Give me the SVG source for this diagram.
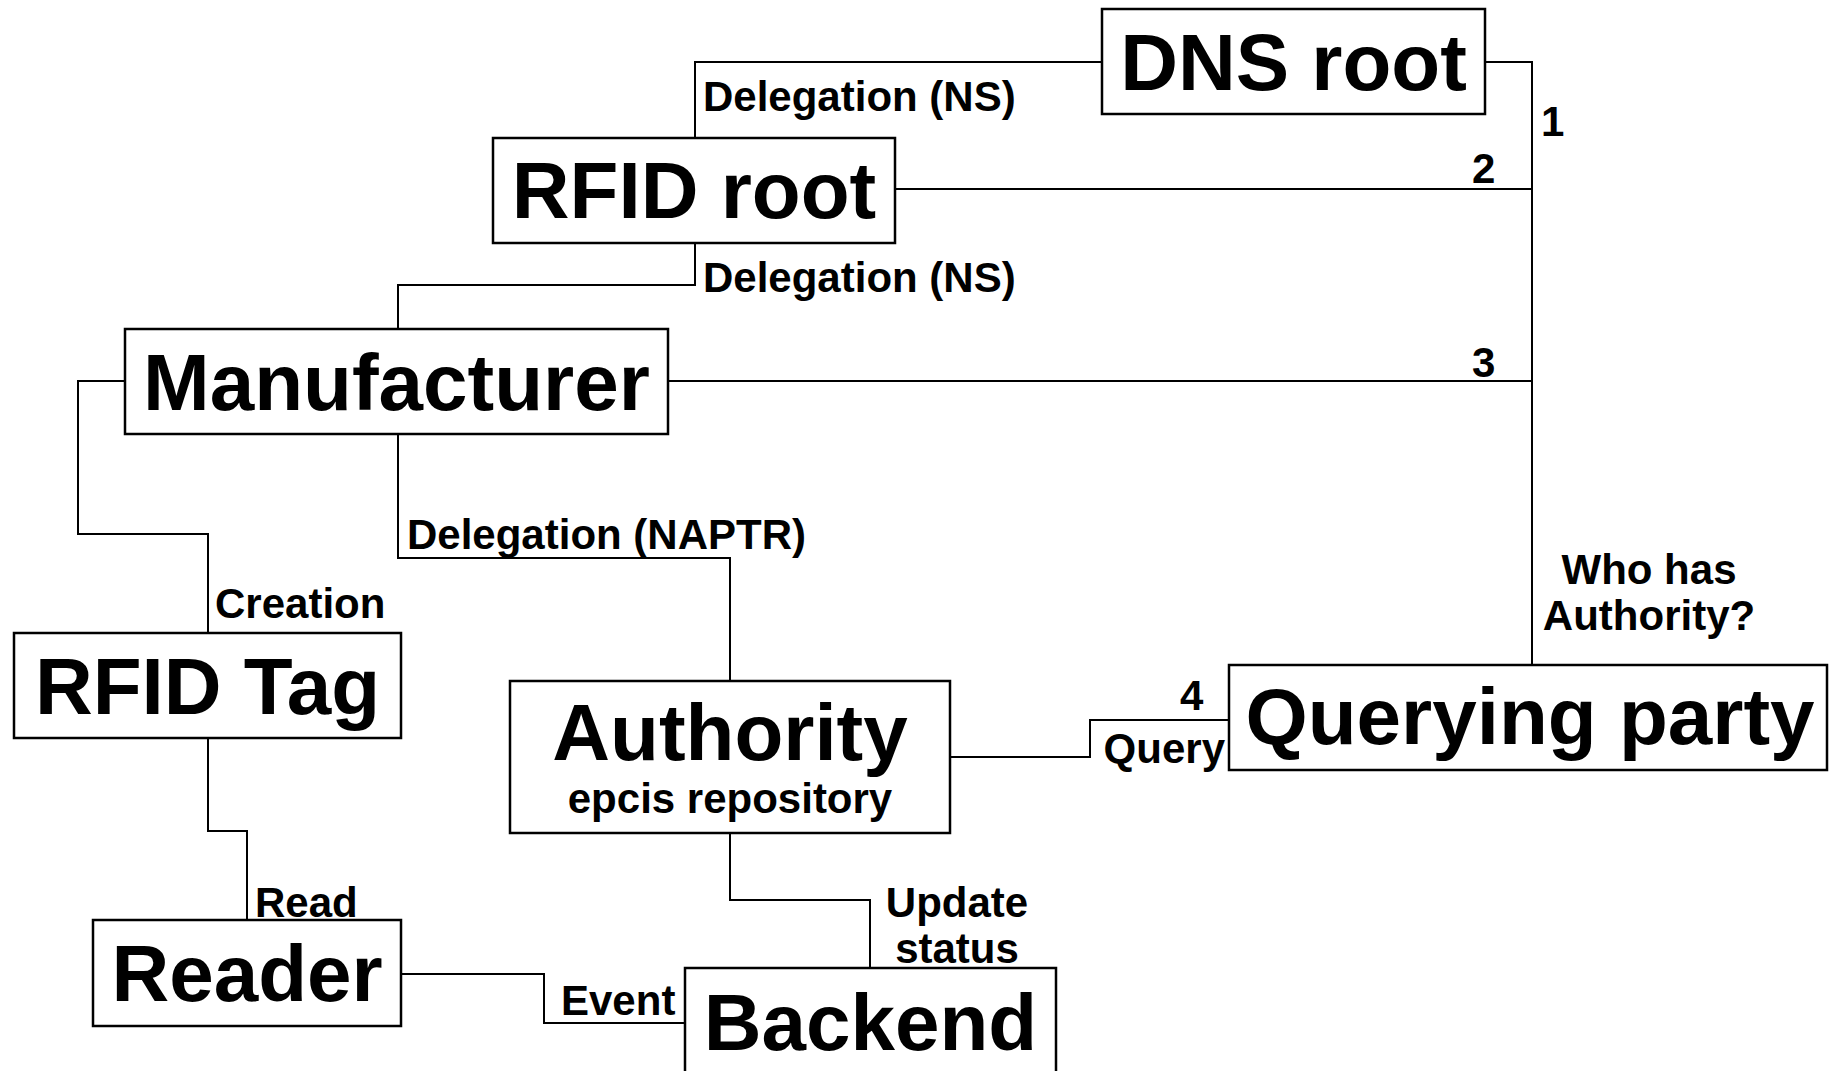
<svg xmlns="http://www.w3.org/2000/svg" width="1829" height="1071" viewBox="0 0 1829 1071">
  <style>
    .box { fill: #ffffff; stroke: #000000; stroke-width: 2.5; }
    .title { font-family: "Liberation Sans", Arial, sans-serif; font-weight: bold; font-size: 80px; fill: #000000; text-anchor: middle; }
    .sub { font-family: "Liberation Sans", Arial, sans-serif; font-weight: bold; font-size: 42px; fill: #000000; text-anchor: middle; }
    .lbl { font-family: "Liberation Sans", Arial, sans-serif; font-weight: bold; font-size: 42px; fill: #000000; }
    .wire { fill: none; stroke: #000000; stroke-width: 2; }
  </style>
  <rect width="1829" height="1071" fill="#ffffff"/>

  <!-- connectors -->
  <g id="connectors">
    <path class="wire" d="M1102,62 H695 V138"/>
    <path class="wire" d="M1485,62 H1532 V665"/>
    <path class="wire" d="M895,189 H1532"/>
    <path class="wire" d="M695,243 V285 H398 V329"/>
    <path class="wire" d="M668,381 H1532"/>
    <path class="wire" d="M125,381 H78 V534 H208 V633"/>
    <path class="wire" d="M398,434 V558 H730 V681"/>
    <path class="wire" d="M208,738 V831 H247 V920"/>
    <path class="wire" d="M401,974 H544 V1023 H685"/>
    <path class="wire" d="M730,833 V900 H870 V968"/>
    <path class="wire" d="M950,757 H1090 V720 H1229"/>

    <text class="lbl" x="703" y="111">Delegation (NS)</text>
    <text class="lbl" x="1541" y="136">1</text>
    <text class="lbl" x="1472" y="183">2</text>
    <text class="lbl" x="703" y="292">Delegation (NS)</text>
    <text class="lbl" x="1472" y="377">3</text>
    <text class="lbl" x="407" y="549">Delegation (NAPTR)</text>
    <text class="lbl" x="215" y="618">Creation</text>
    <text class="sub" x="1649" y="584">Who has</text>
    <text class="sub" x="1649" y="630">Authority?</text>
    <text class="lbl" x="1180" y="710">4</text>
    <text class="lbl" x="1225" y="763" text-anchor="end">Query</text>
    <text class="lbl" x="255" y="917">Read</text>
    <text class="sub" x="957" y="917">Update</text>
    <text class="sub" x="957" y="963">status</text>
    <text class="lbl" x="561" y="1015">Event</text>
  </g>

  <!-- nodes -->
  <g id="dns-root">
    <rect class="box" x="1102" y="9" width="383" height="105"/>
    <text class="title" x="1293.5" y="90">DNS root</text>
  </g>
  <g id="rfid-root">
    <rect class="box" x="493" y="138" width="402" height="105"/>
    <text class="title" x="694" y="218">RFID root</text>
  </g>
  <g id="manufacturer">
    <rect class="box" x="125" y="329" width="543" height="105"/>
    <text class="title" x="396.5" y="410">Manufacturer</text>
  </g>
  <g id="rfid-tag">
    <rect class="box" x="14" y="633" width="387" height="105"/>
    <text class="title" x="207.5" y="714">RFID Tag</text>
  </g>
  <g id="authority">
    <rect class="box" x="510" y="681" width="440" height="152"/>
    <text class="title" x="730" y="760">Authority</text>
    <text class="sub" x="730" y="813">epcis repository</text>
  </g>
  <g id="querying-party">
    <rect class="box" x="1229" y="665" width="598" height="105"/>
    <text class="title" x="1530" y="744">Querying party</text>
  </g>
  <g id="reader">
    <rect class="box" x="93" y="920" width="308" height="106"/>
    <text class="title" x="247" y="1001">Reader</text>
  </g>
  <g id="backend">
    <rect class="box" x="685" y="968" width="371" height="120"/>
    <text class="title" x="870.5" y="1050">Backend</text>
  </g>
</svg>
